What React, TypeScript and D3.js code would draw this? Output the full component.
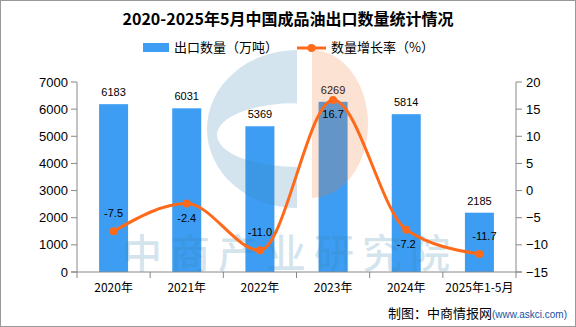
import React from "react";
import * as d3 from "d3";

const categories = ["2020年", "2021年", "2022年", "2023年", "2024年", "2025年1-5月"];
const exportVolume = [6183, 6031, 5369, 6269, 5814, 2185];
const growthRate = [-7.5, -2.4, -11.0, 16.7, -7.2, -11.7];
const leftTicks = [0, 1000, 2000, 3000, 4000, 5000, 6000, 7000];
const rightTicks = [-15, -10, -5, 0, 5, 10, 15, 20];
const growthLabelBelow = [false, true, false, true, true, false];

const W = 576;
const H = 327;
const left = 77;
const right = 516;
const top = 82;
const bottom = 272;
const BAR = "#3d9df2";
const LINE = "#ff6a1a";
const AXIS = "#888888";
const FONT = "'Liberation Sans', Arial, sans-serif";
const CJK = "'Noto Sans CJK SC', sans-serif";

export default function App() {
  const x = d3.scaleBand<string>().domain(categories).range([left, right]).paddingInner(0).paddingOuter(0);
  const yL = d3.scaleLinear().domain([0, 7000]).range([bottom, top]);
  const yR = d3.scaleLinear().domain([-15, 20]).range([bottom, top]);
  const barW = 29;
  const cx = (c: string) => (x(c) as number) + x.bandwidth() / 2;
  const pts: [number, number][] = categories.map((c, i) => [cx(c), yR(growthRate[i])]);
  const line = d3.line().curve(d3.curveMonotoneX)(pts) as string;

  return (
    <svg width={W} height={H} style={{ position: "absolute", left: 0, top: 0, background: "#fff" }} fontFamily={FONT}>
      <rect x={0.5} y={0.5} width={W - 1} height={H - 1} fill="#fff" stroke="#999" />

      <text x={288} y={25} textAnchor="middle" fontSize={16} fontWeight="bold" fill="#000" fontFamily={CJK}>2020-2025年5月中国成品油出口数量统计情况</text>

      {/* legend */}
      <rect x={143} y={43} width={26} height={9} fill={BAR} />
      <text x={174} y={52} fontSize={13} fill="#000" fontFamily={CJK}>出口数量（万吨）</text>
      <line x1={297} x2={326} y1={48} y2={48} stroke={LINE} strokeWidth={3} />
      <circle cx={311.5} cy={48} r={4} fill={LINE} />
      <text x={331} y={52} fontSize={13} fill="#000" fontFamily={CJK}>数量增长率（%）</text>

      {/* bars */}
      {categories.map((c, i) => (
        <g key={c}>
          <rect x={cx(c) - barW / 2} y={yL(exportVolume[i])} width={barW} height={bottom - yL(exportVolume[i])} fill={BAR} />
          <text x={cx(c)} y={yL(exportVolume[i]) - 8} textAnchor="middle" fontSize={11} fill="#000">{exportVolume[i]}</text>
        </g>
      ))}

      {/* watermark */}
      <g>
        <path
          d="M 297 50 A 90 79 0 0 0 297 208 Z M 297 103 A 80 32 0 0 0 297 167 Z"
          fill="rgb(59,132,177)"
          fillOpacity={0.22}
          fillRule="evenodd"
        />
        <path d="M 312 50 A 56 74 0 0 1 312 198 Z" fill="rgb(241,125,51)" fillOpacity={0.22} />
      </g>
      <text x={290} y={268} textAnchor="middle" fontSize={40} fontWeight="500" fill="rgb(59,132,177)" fillOpacity={0.22} fontFamily={CJK} letterSpacing={8}>中商产业研究院</text>

      {/* axes */}
      <line x1={left} x2={left} y1={top} y2={bottom} stroke={AXIS} />
      <line x1={right} x2={right} y1={top} y2={bottom + 6} stroke={AXIS} />
      <line x1={left - 6} x2={right + 6} y1={bottom} y2={bottom} stroke={AXIS} />
      {leftTicks.map((t) => (
        <g key={t}>
          <line x1={left - 6} x2={left} y1={yL(t)} y2={yL(t)} stroke={AXIS} />
          <text x={left - 9} y={yL(t) + 4.5} textAnchor="end" fontSize={13} fill="#000">{t}</text>
        </g>
      ))}
      {rightTicks.map((t) => (
        <g key={t}>
          <line x1={right} x2={right + 6} y1={yR(t)} y2={yR(t)} stroke={AXIS} />
          <text x={right + 10} y={yR(t) + 4.5} textAnchor="start" fontSize={13} fill="#000">{t < 0 ? "−" + Math.abs(t) : t}</text>
        </g>
      ))}
      {categories.map((c) => (
        <g key={c}>
          <line x1={x(c) as number} x2={x(c) as number} y1={bottom} y2={bottom + 6} stroke={AXIS} />
          <text x={cx(c)} y={292} textAnchor="middle" fontSize={12} fill="#000" fontFamily={CJK}>{c}</text>
        </g>
      ))}

      {/* line */}
      <path d={line} fill="none" stroke={LINE} strokeWidth={3} />
      {pts.map((p, i) => (
        <g key={i}>
          <circle cx={p[0]} cy={p[1]} r={4} fill={LINE} />
          <text x={p[0] + (i === 5 ? 5 : 0)} y={growthLabelBelow[i] ? p[1] + 18 : p[1] - 14} textAnchor="middle" fontSize={11} fill="#000">{growthRate[i].toFixed(1)}</text>
        </g>
      ))}

      <text x={388} y={318} fontSize={13} fill="#000" fontFamily={CJK}>制图：中商情报网<tspan fontSize={10} fill="#1a4fa0" fontFamily={FONT}>(www.askci.com)</tspan></text>
    </svg>
  );
}
